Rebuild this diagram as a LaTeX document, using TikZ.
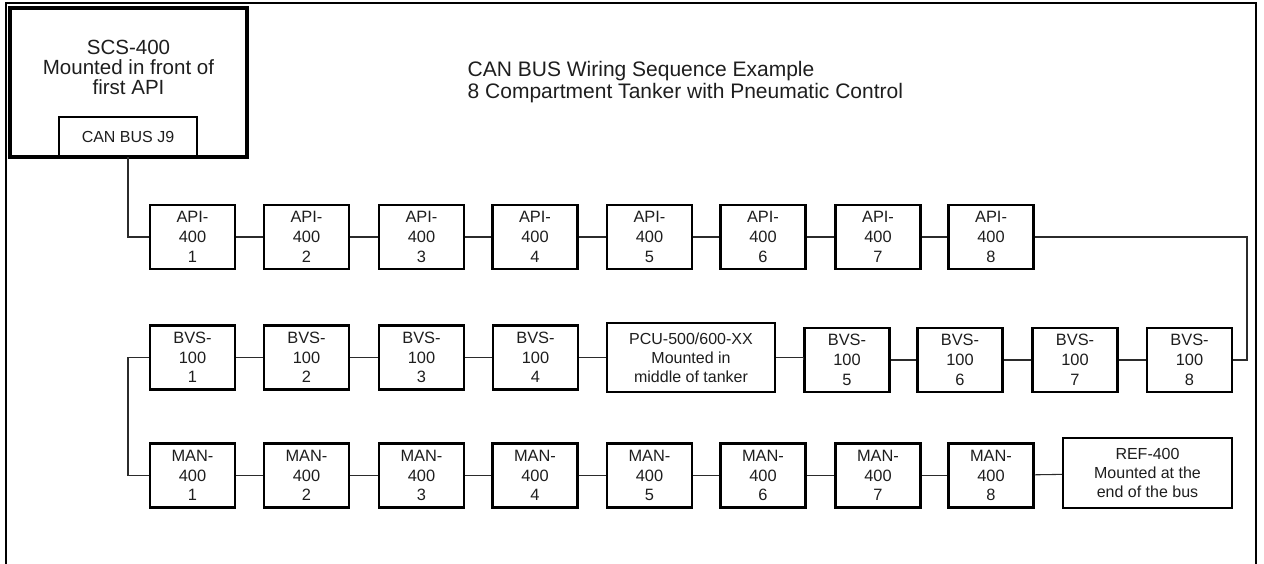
\documentclass[tikz,border=0pt]{standalone}
\usepackage{fontspec}
\setmainfont{Liberation Sans}
\usepackage{xcolor}
\usepackage{tikz}
\definecolor{busInk}{HTML}{000000}
\definecolor{busText}{HTML}{1E1E1E}
\definecolor{busWire}{HTML}{2B2B2B}
\usetikzlibrary{positioning,calc}

\begin{document}
\begin{tikzpicture}[
  x=0.75pt, y=-0.75pt,
  unit/.style={draw=busInk, line width=1.7pt, fill=white, minimum width=63.75pt, minimum height=48pt, inner sep=0pt, align=center, text=busText, font=\fontsize{12.3}{14.8}\selectfont},
  wideunit/.style={unit, minimum width=126.5pt, minimum height=52pt, font=\fontsize{12}{14.4}\selectfont},
  controller/.style={draw=busInk, line width=2.3pt, minimum width=177.75pt, minimum height=111.75pt, inner sep=0pt},
  port/.style={draw=busInk, line width=2pt, fill=white, minimum width=103.5pt, minimum height=29.25pt, inner sep=0pt, text=busText, font=\fontsize{12}{14}\selectfont},
  wire/.style={busWire, line width=0.8pt},
  frame/.style={busInk, line width=1pt}
]
\useasboundingbox (0,0) rectangle (1264,564);

% Page frame
\draw[frame] (6,564) -- (6,3) -- (1256,3) -- (1256,564);

% Controller
\node[controller] (scs) at (128.5,82.5) {};
\node[align=center, text=busText, font=\fontsize{15.4}{15}\selectfont] (scsnote) at (128.5,67) {SCS-400\\Mounted in front of\\first API};
\node[port] (scsport) at (128,136.5) {CAN BUS J9};

% Title
\node[anchor=west, align=left, text=busText, font=\fontsize{15.75}{16.5}\selectfont] (title) at (463,82) {CAN BUS Wiring Sequence Example\\8 Compartment Tanker with Pneumatic Control};

% API row
\node[unit] (api1) at (192.5,237) {API-\\400\\1};
\node[unit] (api2) at (306.5,237) {API-\\400\\2};
\node[unit] (api3) at (421.5,237) {API-\\400\\3};
\node[unit] (api4) at (535,237) {API-\\400\\4};
\node[unit] (api5) at (649.5,237) {API-\\400\\5};
\node[unit] (api6) at (763,237) {API-\\400\\6};
\node[unit] (api7) at (878,237) {API-\\400\\7};
\node[unit] (api8) at (991,237) {API-\\400\\8};

% BVS row
\node[unit] (bvs1) at (192.5,357.5) {BVS-\\100\\1};
\node[unit] (bvs2) at (306.5,357.5) {BVS-\\100\\2};
\node[unit] (bvs3) at (421.5,357.5) {BVS-\\100\\3};
\node[unit] (bvs4) at (535.5,357.5) {BVS-\\100\\4};
\node[wideunit] (pcu) at (691,357.5) {PCU-500/600-XX\\Mounted in\\middle of tanker};
\node[unit] (bvs5) at (847,360) {BVS-\\100\\5};
\node[unit] (bvs6) at (960,360) {BVS-\\100\\6};
\node[unit] (bvs7) at (1075,360) {BVS-\\100\\7};
\node[unit] (bvs8) at (1189.5,360) {BVS-\\100\\8};

% MAN row
\node[unit] (man1) at (192.5,475.5) {MAN-\\400\\1};
\node[unit] (man2) at (306.5,475.5) {MAN-\\400\\2};
\node[unit] (man3) at (421.5,475.5) {MAN-\\400\\3};
\node[unit] (man4) at (535,475.5) {MAN-\\400\\4};
\node[unit] (man5) at (649.5,475.5) {MAN-\\400\\5};
\node[unit] (man6) at (763,475.5) {MAN-\\400\\6};
\node[unit] (man7) at (878,475.5) {MAN-\\400\\7};
\node[unit] (man8) at (991,475.5) {MAN-\\400\\8};
\node[wideunit] (ref) at (1147.5,473) {REF-400\\Mounted at the\\end of the bus};

% Turn points
\coordinate (rturn) at (1247,300);
\coordinate (lturn) at (128,420);

% Bus wiring
\draw[wire] (scsport.south) |- (api1.west);
\draw[wire] (api1) -- (api2);
\draw[wire] (api2) -- (api3);
\draw[wire] (api3) -- (api4);
\draw[wire] (api4) -- (api5);
\draw[wire] (api5) -- (api6);
\draw[wire] (api6) -- (api7);
\draw[wire] (api7) -- (api8);
\draw[wire] (api8.east) -| (rturn) |- (bvs8.east);
\draw[wire] (bvs8) -- (bvs7);
\draw[wire] (bvs7) -- (bvs6);
\draw[wire] (bvs6) -- (bvs5);
\draw[wire] (bvs5.west) -- (bvs5.west |- pcu.east) -- (pcu.east);
\draw[wire] (pcu) -- (bvs4);
\draw[wire] (bvs4) -- (bvs3);
\draw[wire] (bvs3) -- (bvs2);
\draw[wire] (bvs2) -- (bvs1);
\draw[wire] (bvs1.west) -| (lturn) |- (man1.west);
\draw[wire] (man1) -- (man2);
\draw[wire] (man2) -- (man3);
\draw[wire] (man3) -- (man4);
\draw[wire] (man4) -- (man5);
\draw[wire] (man5) -- (man6);
\draw[wire] (man6) -- (man7);
\draw[wire] (man7) -- (man8);
\draw[wire] (man8) -- (ref);

\end{tikzpicture}
\end{document}
